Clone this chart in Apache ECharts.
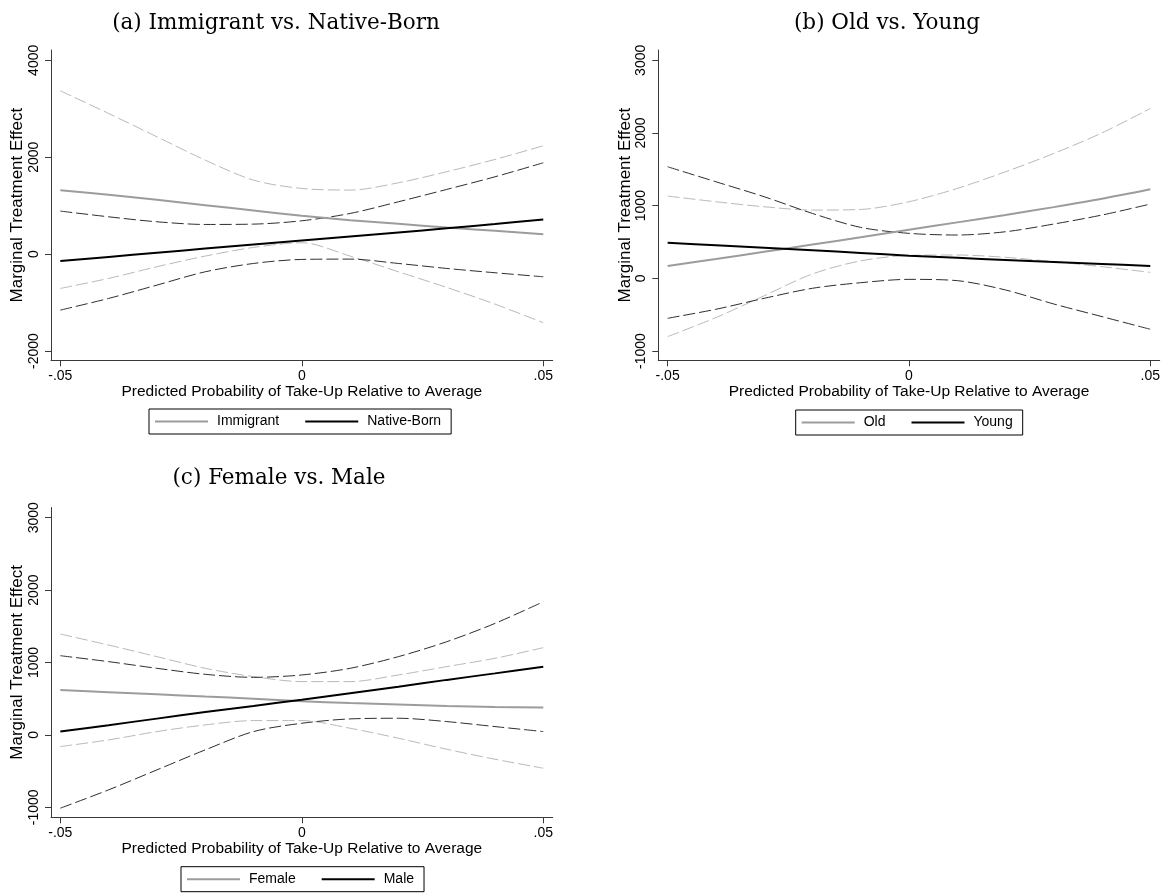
<!DOCTYPE html>
<html>
<head>
<meta charset="utf-8">
<script src="https://cdn.jsdelivr.net/npm/echarts@6/dist/echarts.min.js"></script>
<style>
html,body{margin:0;padding:0;background:#fff;}
#chart{width:1165px;height:895px;}
</style>
</head>
<body>
<div id="chart"></div>
<script>
// x positions (predicted probability of take-up relative to average)
var xs = [-0.05, -0.04, -0.03, -0.02, -0.01, 0, 0.01, 0.02, 0.03, 0.04, 0.05];
var xTickValues = [-0.05, 0, 0.05];
var xTickLabels = ['-.05', '0', '.05'];

// Panel (a) Immigrant vs. Native-Born
var immigrant      = [1320, 1225, 1120, 1010, 900, 790, 700, 625, 550, 480, 410];
var immigrantUpper = [3371, 2903, 2422, 1940, 1527, 1355, 1321, 1472, 1700, 1954, 2236];
var immigrantLower = [-709, -502, -261, -41, 138, 234, -41, -365, -688, -1032, -1417];
var nativeBorn      = [-144, -58, 28, 114, 198, 280, 362, 447, 532, 620, 716];
var nativeBornUpper = [888, 770, 667, 612, 619, 688, 839, 1080, 1335, 1596, 1885];
var nativeBornLower = [-1156, -915, -640, -365, -193, -110, -103, -193, -296, -385, -468];
var yTicksA = [-2000, 0, 2000, 4000];

// Panel (b) Old vs. Young
var old      = [170, 265, 365, 465, 565, 668, 770, 872, 980, 1095, 1225];
var oldUpper = [1132, 1054, 985, 939, 948, 1054, 1237, 1466, 1718, 2002, 2337];
var oldLower = [-802, -540, -240, 60, 240, 315, 321, 289, 229, 160, 82];
var young      = [490, 455, 420, 385, 350, 312, 282, 253, 224, 197, 170];
var youngUpper = [1535, 1329, 1123, 893, 701, 619, 596, 641, 747, 871, 1022];
var youngLower = [-550, -426, -275, -137, -60, -14, -32, -160, -353, -527, -701];
var yTicksB = [-1000, 0, 1000, 2000, 3000];

// Panel (c) Female vs. Male
var female      = [620, 590, 560, 530, 500, 465, 440, 420, 400, 387, 377];
var femaleUpper = [1393, 1241, 1081, 920, 805, 736, 736, 828, 943, 1058, 1205];
var femaleLower = [-161, -69, 46, 138, 198, 198, 92, -46, -198, -336, -460];
var male      = [46, 135, 225, 315, 400, 487, 575, 665, 760, 850, 943];
var maleUpper = [1094, 1012, 920, 837, 795, 828, 920, 1081, 1287, 1540, 1839];
var maleLower = [-1012, -759, -483, -207, 46, 161, 221, 230, 184, 115, 46];
var yTicksC = [-1000, 0, 1000, 2000, 3000];

var titles = ['(a) Immigrant vs. Native-Born', '(b) Old vs. Young', '(c) Female vs. Male'];
var xTitle = 'Predicted Probability of Take-Up Relative to Average';
var yTitle = 'Marginal Treatment Effect';

var SANS = 'Liberation Sans, Arial, Helvetica, sans-serif';
var AXIS_COLOR = '#3a3a3a';
var GRAY_MAIN = '#9c9c9c';
var GRAY_CI = '#b9b9b9';
var BLACK_MAIN = '#000000';
var BLACK_CI = '#2e2e2e';

function pairs(arr) { return xs.map(function (x, i) { return [x, arr[i]]; }); }

var grids = [
  {left: 51, top: 50, width: 501.7, height: 310.3},
  {left: 658.3, top: 50, width: 501.4, height: 310.3},
  {left: 51, top: 507.5, width: 501.7, height: 309.8}
];
var yRanges = [[-2192, 4213], [-1128, 3142], [-1138, 3141]];
var yTicks = [yTicksA, yTicksB, yTicksC];

var xAxes = grids.map(function (g, i) {
  return {
    type: 'value', gridIndex: i, min: -0.05193, max: 0.05195,
    name: xTitle, nameLocation: 'middle', nameGap: 23,
    nameTextStyle: {fontFamily: SANS, fontSize: 15.5, color: '#000'},
    axisLine: {show: true, onZero: false, lineStyle: {color: AXIS_COLOR, width: 1}},
    axisTick: {show: true, length: 6, customValues: xTickValues, lineStyle: {color: AXIS_COLOR}},
    axisLabel: {customValues: xTickValues, margin: 9, fontFamily: SANS, fontSize: 14, color: '#000',
      formatter: function (v) { var k = xTickValues.indexOf(v); return k >= 0 ? xTickLabels[k] : ''; }},
    splitLine: {show: false}
  };
});
var yAxes = grids.map(function (g, i) {
  return {
    type: 'value', gridIndex: i, min: yRanges[i][0], max: yRanges[i][1],
    name: yTitle, nameLocation: 'middle', nameGap: 24,
    nameTextStyle: {fontFamily: SANS, fontSize: 17, color: '#000'},
    axisLine: {show: true, onZero: false, lineStyle: {color: AXIS_COLOR, width: 1}},
    axisTick: {show: true, length: 6, customValues: yTicks[i], lineStyle: {color: AXIS_COLOR}},
    axisLabel: {customValues: yTicks[i], rotate: 90, margin: 10, fontFamily: SANS, fontSize: 14, color: '#000',
      formatter: function (v) { return String(Math.round(v)); }},
    splitLine: {show: false}
  };
});

function line(name, data, idx, color, width, dashed, z) {
  return {
    type: 'line', name: name, data: pairs(data), xAxisIndex: idx, yAxisIndex: idx,
    showSymbol: false, symbol: 'none', smooth: 0.3, z: z,
    lineStyle: {color: color, width: width, type: dashed ? [12, 4] : 'solid'},
    itemStyle: {color: color}, emphasis: {disabled: true}
  };
}

var series = [
  line('Immigrant CI+', immigrantUpper, 0, GRAY_CI, 1, true, 2),
  line('Immigrant CI-', immigrantLower, 0, GRAY_CI, 1, true, 2),
  line('Native-Born CI+', nativeBornUpper, 0, BLACK_CI, 1, true, 3),
  line('Native-Born CI-', nativeBornLower, 0, BLACK_CI, 1, true, 3),
  line('Immigrant', immigrant, 0, GRAY_MAIN, 2, false, 4),
  line('Native-Born', nativeBorn, 0, BLACK_MAIN, 2, false, 5),

  line('Old CI+', oldUpper, 1, GRAY_CI, 1, true, 2),
  line('Old CI-', oldLower, 1, GRAY_CI, 1, true, 2),
  line('Young CI+', youngUpper, 1, BLACK_CI, 1, true, 3),
  line('Young CI-', youngLower, 1, BLACK_CI, 1, true, 3),
  line('Old', old, 1, GRAY_MAIN, 2, false, 4),
  line('Young', young, 1, BLACK_MAIN, 2, false, 5),

  line('Female CI+', femaleUpper, 2, GRAY_CI, 1, true, 2),
  line('Female CI-', femaleLower, 2, GRAY_CI, 1, true, 2),
  line('Male CI+', maleUpper, 2, BLACK_CI, 1, true, 3),
  line('Male CI-', maleLower, 2, BLACK_CI, 1, true, 3),
  line('Female', female, 2, GRAY_MAIN, 2, false, 4),
  line('Male', male, 2, BLACK_MAIN, 2, false, 5)
];

function legend(names, left, top) {
  return {
    data: names, left: left, top: top, orient: 'horizontal',
    icon: 'rect', itemWidth: 53, itemHeight: 2, itemGap: 26,
    padding: [4, 10, 4, 6], borderColor: '#000', borderWidth: 1, borderRadius: 0,
    backgroundColor: '#fff', selectedMode: false,
    textStyle: {fontFamily: SANS, fontSize: 14, color: '#000', padding: [0, 0, 0, 4], lineHeight: 17}
  };
}

var titleStyle = {fontFamily: 'DejaVu Serif, Liberation Serif, serif', fontWeight: 'normal', fontSize: 21.5, color: '#000'};

var option = {
  animation: false,
  backgroundColor: '#fff',
  title: [
    {text: titles[0], left: 271, top: 7, textAlign: 'center', textStyle: titleStyle},
    {text: titles[1], left: 882, top: 7, textAlign: 'center', textStyle: titleStyle},
    {text: titles[2], left: 274, top: 462, textAlign: 'center', textStyle: titleStyle}
  ],
  legend: [
    legend(['Immigrant', 'Native-Born'], 149, 409),
    legend(['Old', 'Young'], 795.7, 410),
    legend(['Female', 'Male'], 181, 866.7)
  ],
  grid: grids,
  xAxis: xAxes,
  yAxis: yAxes,
  series: series
};

var chart = echarts.init(document.getElementById('chart'), null, {renderer: 'canvas'});
chart.setOption(option);
</script>
</body>
</html>
